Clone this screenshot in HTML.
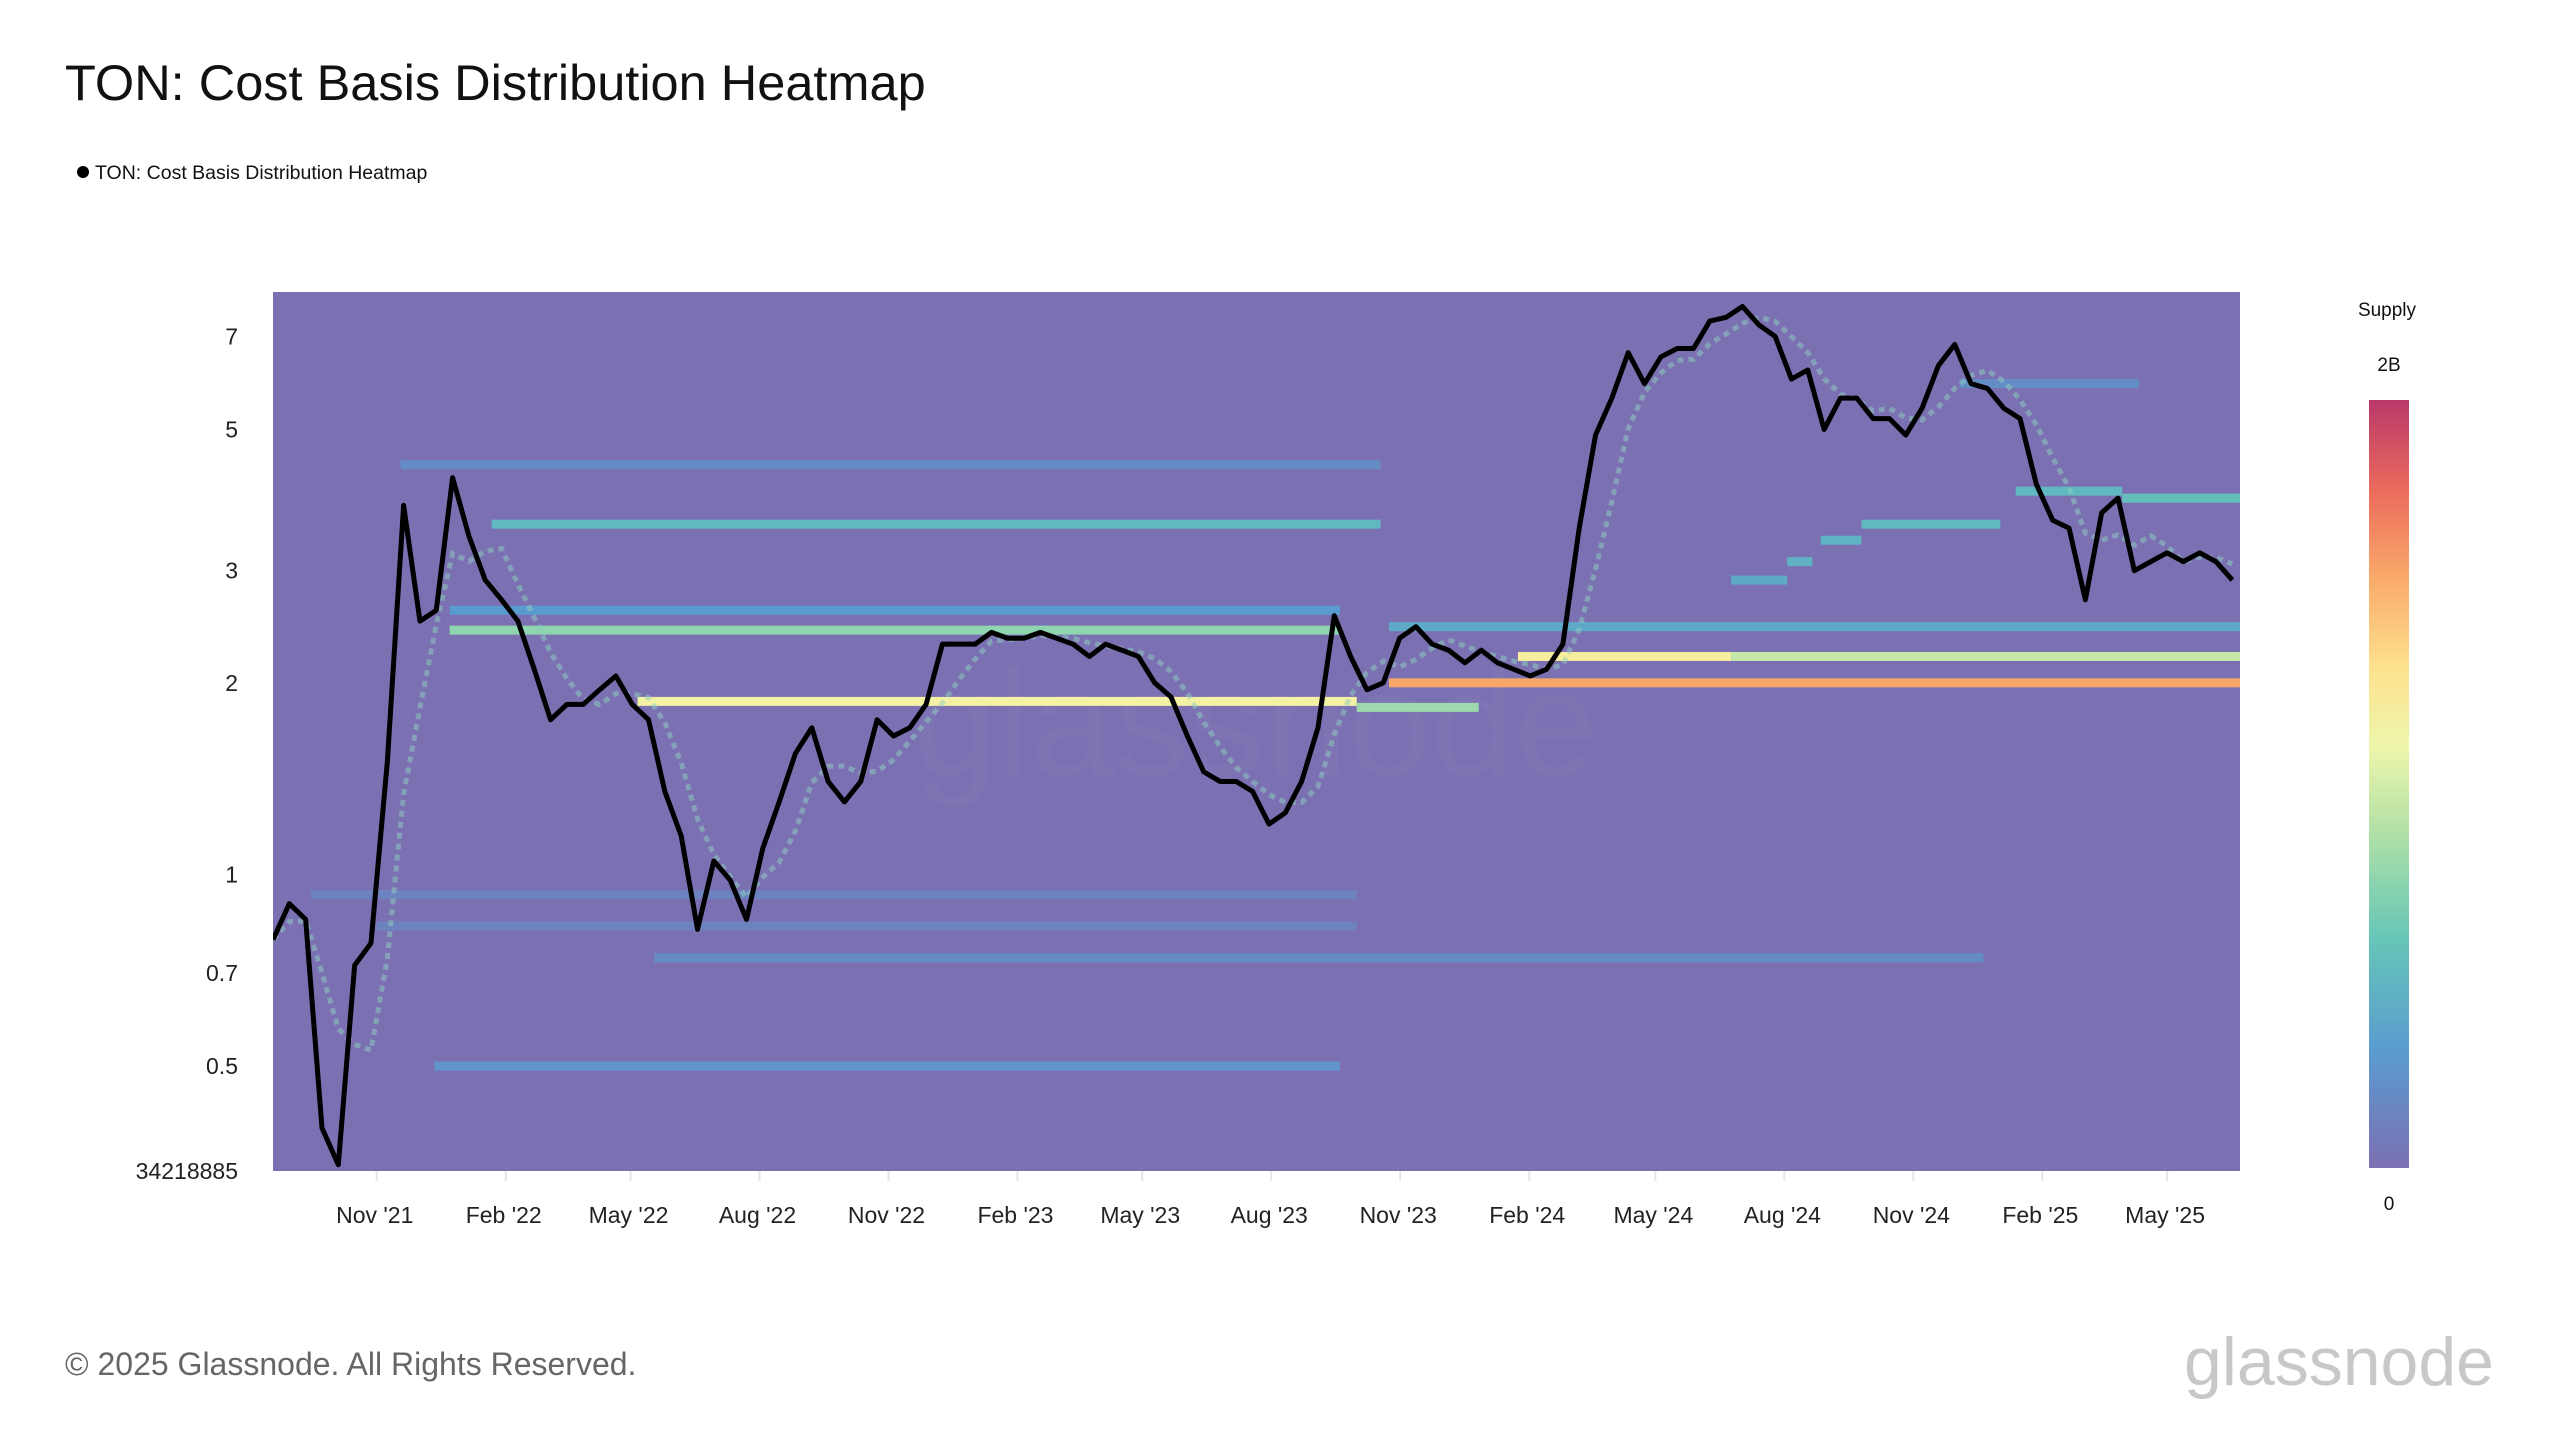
<!DOCTYPE html>
<html><head><meta charset="utf-8">
<style>
body{margin:0;background:#fff;width:2560px;height:1440px;overflow:hidden;font-family:"Liberation Sans",sans-serif;}
</style></head>
<body>
<svg id="chart" width="2560" height="1440" xmlns="http://www.w3.org/2000/svg" style="position:absolute;left:0;top:0">
<text x="65" y="100" font-size="50.5" fill="#111" font-family="Liberation Sans, sans-serif">TON: Cost Basis Distribution Heatmap</text>
<g>
<circle cx="83" cy="172" r="6" fill="#000"/>
<text x="95" y="179" font-size="19.5" fill="#111">TON: Cost Basis Distribution Heatmap</text>
</g>
<g id="plot"></g>
<g id="axes"></g>
<defs>
<linearGradient id="cbar" x1="0" y1="1" x2="0" y2="0">
<stop offset="0" stop-color="#7b70b2"/><stop offset="0.15" stop-color="#5a9bcf"/><stop offset="0.3" stop-color="#66c6b8"/><stop offset="0.45" stop-color="#b8e3a6"/><stop offset="0.55" stop-color="#eef6ac"/><stop offset="0.65" stop-color="#fde28d"/><stop offset="0.77" stop-color="#f9a96a"/><stop offset="0.88" stop-color="#ec6c5c"/><stop offset="1" stop-color="#b9386a"/>
</linearGradient>
<clipPath id="clip"><rect x="273" y="292" width="1967" height="879"/></clipPath>
</defs>
<text x="2387" y="316" font-size="19" fill="#111" text-anchor="middle">Supply</text>
<text x="2389" y="371" font-size="19" fill="#111" text-anchor="middle">2B</text>
<rect x="2369" y="400" width="40" height="768" fill="url(#cbar)"/>
<text x="2389" y="1210" font-size="19" fill="#111" text-anchor="middle">0</text>
<text x="65" y="1375" font-size="32" fill="#666">© 2025 Glassnode. All Rights Reserved.</text>
<text x="2494" y="1385" font-size="68" fill="#c8c8c8" text-anchor="end">glassnode</text>
</svg>
<script>
const axisStart = "2021-08-19";
const axisEnd = "2025-06-22";
const priceStart = "2021-08-19";
const priceStepDays = 11.646;
const prices = [0.79,0.90,0.85,0.40,0.35,0.72,0.78,1.5,3.8,2.5,2.6,4.2,3.4,2.9,2.7,2.5,2.1,1.75,1.85,1.85,1.95,2.05,1.85,1.75,1.35,1.15,0.82,1.05,0.98,0.85,1.1,1.3,1.55,1.7,1.4,1.3,1.4,1.75,1.65,1.7,1.85,2.3,2.3,2.3,2.4,2.35,2.35,2.4,2.35,2.3,2.2,2.3,2.25,2.2,2.0,1.9,1.65,1.45,1.4,1.4,1.35,1.2,1.25,1.4,1.7,2.55,2.2,1.95,2.0,2.35,2.45,2.3,2.25,2.15,2.25,2.15,2.1,2.05,2.1,2.3,3.5,4.9,5.6,6.6,5.9,6.5,6.7,6.7,7.4,7.5,7.8,7.3,7.0,6.0,6.2,5.0,5.6,5.6,5.2,5.2,4.9,5.4,6.3,6.8,5.9,5.8,5.4,5.2,4.1,3.6,3.5,2.7,3.7,3.9,3.0,3.1,3.2,3.1,3.2,3.1,2.9];
const bandPrice = [3.55,2.42,2.6,1.87,1.83,2.2,2.2,2.0,2.45,3.9,4.0,3.55,3.35,3.1,2.9,5.9,4.4,0.5,0.74,0.93,0.83];
const bandStartDate = ["2022-01-22","2021-12-23","2021-12-23","2022-05-06","2023-10-01","2024-01-24","2024-06-24","2023-10-24","2023-10-24","2025-03-30","2025-01-13","2024-09-25","2024-08-27","2024-08-03","2024-06-24","2024-12-04","2021-11-18","2021-12-12","2022-05-18","2021-09-15","2021-11-01"];
const bandEndDate = ["2023-10-18","2023-09-19","2023-09-19","2023-10-01","2023-12-27","2024-06-24","2025-06-22","2025-06-22","2025-06-22","2025-06-22","2025-03-30","2025-01-02","2024-09-25","2024-08-21","2024-08-03","2025-04-11","2023-10-18","2023-09-19","2024-12-21","2023-10-01","2023-10-01"];
const bandSupply = [0.5,0.75,0.3,1.15,0.8,1.2,0.95,1.55,0.4,0.55,0.5,0.5,0.45,0.45,0.4,0.2,0.2,0.25,0.2,0.13,0.13];
const yTicks = [7,5,3,2,1,0.7,0.5,0.34218885];
const yTickLabels = ["7","5","3","2","1","0.7","0.5","34218885"];
const xTickDates = ["2021-11-01","2022-02-01","2022-05-01","2022-08-01","2022-11-01","2023-02-01","2023-05-01","2023-08-01","2023-11-01","2024-02-01","2024-05-01","2024-08-01","2024-11-01","2025-02-01","2025-05-01"];
const xTickLabels = ["Nov '21","Feb '22","May '22","Aug '22","Nov '22","Feb '23","May '23","Aug '23","Nov '23","Feb '24","May '24","Aug '24","Nov '24","Feb '25","May '25"];

const NS="http://www.w3.org/2000/svg";
const PL=273,PR=2240,PT=292,PB=1171;
const yMin=0.34218885,yMax=8.22;
const t0=Date.parse(axisStart),t1=Date.parse(axisEnd);
function xScale(t){return PL+(t-t0)/(t1-t0)*(PR-PL);}
function xDate(s){return xScale(Date.parse(s));}
function yScale(v){return PB-(Math.log10(v)-Math.log10(yMin))/(Math.log10(yMax)-Math.log10(yMin))*(PB-PT);}
const stops=[[0,[123,112,178]],[0.15,[90,155,207]],[0.3,[102,198,184]],[0.45,[184,227,166]],[0.55,[238,246,172]],[0.65,[253,226,141]],[0.77,[249,169,106]],[0.88,[236,108,92]],[1,[185,56,106]]];
function color(s){const f=Math.max(0,Math.min(1,s/2));for(let i=1;i<stops.length;i++){if(f<=stops[i][0]){const a=stops[i-1],b=stops[i],u=(f-a[0])/(b[0]-a[0]);return 'rgb('+a[1].map((c,k)=>Math.round(c+(b[1][k]-c)*u)).join(',')+')';}}return 'rgb(185,56,106)';}
const plot=document.getElementById('plot'),axes=document.getElementById('axes');
const bg=document.createElementNS(NS,'rect');


bg.setAttribute('x',PL);bg.setAttribute('y',PT);bg.setAttribute('width',PR-PL);bg.setAttribute('height',PB-PT);bg.setAttribute('fill','#7b71b2');
plot.appendChild(bg);
const g=document.createElementNS(NS,'g');g.setAttribute('clip-path','url(#clip)');plot.appendChild(g);
const wm=document.createElementNS(NS,'text');


wm.setAttribute('x',1256);wm.setAttribute('y',775);wm.setAttribute('font-size',150);wm.setAttribute('text-anchor','middle');wm.setAttribute('fill','rgba(255,255,255,0.025)');wm.textContent='glassnode';
g.appendChild(wm);
bandPrice.forEach((p,i)=>{const r=document.createElementNS(NS,'rect');


const x0=xDate(bandStartDate[i]),x1=xDate(bandEndDate[i]);
r.setAttribute('x',x0);r.setAttribute('width',x1-x0);r.setAttribute('y',yScale(p)-4.5);r.setAttribute('height',9);r.setAttribute('fill',color(bandSupply[i]));g.appendChild(r);});
const ps=Date.parse(priceStart),day=86400000;
const pts=prices.map((v,i)=>[xScale(ps+i*priceStepDays*day),yScale(v)]);
const trail=prices.map((v,i)=>{let s=0,n=0;for(let k=Math.max(0,i-3);k<=i;k++){s+=Math.log(prices[k]);n++;}return [pts[i][0],yScale(Math.exp(s/n))];});
const tl=document.createElementNS(NS,'polyline');


tl.setAttribute('points',trail.map(p=>p.join(',')).join(' '));tl.setAttribute('fill','none');tl.setAttribute('stroke','#8fd0c0');tl.setAttribute('stroke-width','5');tl.setAttribute('opacity','0.5');tl.setAttribute('stroke-dasharray','6 5');
g.appendChild(tl);
const pl=document.createElementNS(NS,'polyline');


pl.setAttribute('points',pts.map(p=>p.join(',')).join(' '));pl.setAttribute('fill','none');pl.setAttribute('stroke','#000');pl.setAttribute('stroke-width','5');pl.setAttribute('stroke-linejoin','round');
g.appendChild(pl);
yTicks.forEach((v,i)=>{const t=document.createElementNS(NS,'text');


t.setAttribute('x',238);t.setAttribute('y',yScale(v)+8);t.setAttribute('font-size',23);t.setAttribute('text-anchor','end');t.setAttribute('fill','#222');t.textContent=yTickLabels[i];axes.appendChild(t);});
xTickDates.forEach((d,i)=>{const x=xDate(d);const l=document.createElementNS(NS,'line');


l.setAttribute('x1',x);l.setAttribute('x2',x);l.setAttribute('y1',PB);l.setAttribute('y2',PB+10);l.setAttribute('stroke','#e6e6e6');l.setAttribute('stroke-width',2);axes.appendChild(l);
const t=document.createElementNS(NS,'text');


t.setAttribute('x',x-2);t.setAttribute('y',1223);t.setAttribute('font-size',23);t.setAttribute('text-anchor','middle');t.setAttribute('fill','#222');t.textContent=xTickLabels[i];axes.appendChild(t);});
</script>
</body></html>
